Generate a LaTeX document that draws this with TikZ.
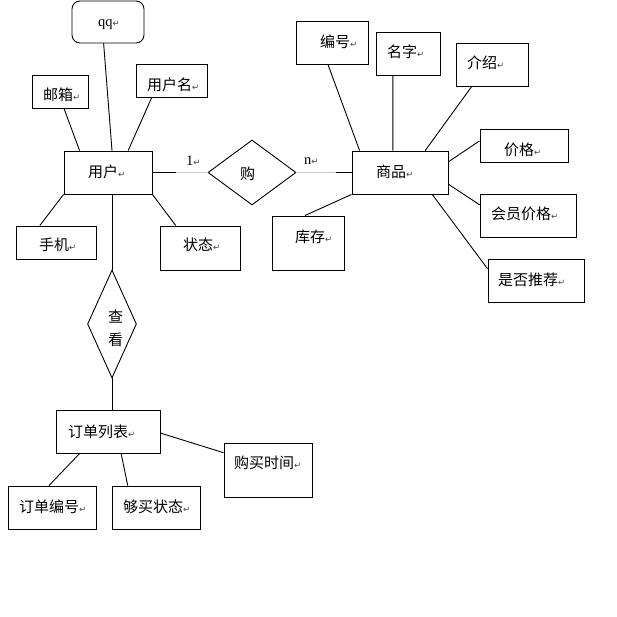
\documentclass[tikz,border=0pt]{standalone}
\usepackage{fontspec}
\setmainfont{Liberation Serif}
\newfontfamily\cjk{Noto Sans CJK SC}
\newfontfamily\symf{DejaVu Sans}
\usetikzlibrary{shapes.geometric,calc}
\newcommand{\rmark}{{\symf\fontsize{8.5}{8.5}\selectfont\textcolor{black!75}{↵}}}
\begin{document}
\begin{tikzpicture}[x=1pt,y=-1pt,
  box/.style={draw,line width=0.9pt,inner sep=0,rectangle},
  rel/.style={draw,line width=0.9pt,inner sep=0,diamond},
  txt/.style={inner sep=0,anchor=west,font=\cjk\fontsize{15}{18}\selectfont},
  lat/.style={inner sep=0,anchor=west,font=\fontsize{14.5}{16}\selectfont},
  link/.style={line width=0.9pt},
  faint/.style={line width=0.9pt,draw=black!22}]
\useasboundingbox (0,0) rectangle (617,617);
% boxes
\node[box,rounded corners=8pt,minimum width=72,minimum height=42] (qq) at (108,22) {};
\node[box,minimum width=56,minimum height=33] (mail) at (60,91.5) {};
\node[box,minimum width=71,minimum height=33] (uname) at (171.5,80.5) {};
\node[box,minimum width=88,minimum height=43] (usr) at (108,172.5) {};
\node[box,minimum width=80,minimum height=33] (phone) at (56,242.5) {};
\node[box,minimum width=80,minimum height=44] (state) at (200,248) {};
\node[rel,minimum width=88,minimum height=65] (buy) at (252,172.5) {};
\node[box,minimum width=72,minimum height=43] (gid) at (332,42.5) {};
\node[box,minimum width=64,minimum height=43] (gname) at (408,53.5) {};
\node[box,minimum width=72,minimum height=43] (intro) at (492,64.5) {};
\node[box,minimum width=96,minimum height=43] (goods) at (400,172.5) {};
\node[box,minimum width=88,minimum height=33] (price) at (524,145.5) {};
\node[box,minimum width=96,minimum height=43] (vprice) at (528,215.5) {};
\node[box,minimum width=72,minimum height=54] (stock) at (308,243) {};
\node[box,minimum width=96,minimum height=43] (rec) at (536,280.5) {};
\node[rel,minimum width=49,minimum height=108] (look) at (112,324) {};
\node[box,minimum width=104,minimum height=43] (order) at (108,431.5) {};
\node[box,minimum width=88,minimum height=54] (btime) at (268,470) {};
\node[box,minimum width=88,minimum height=43] (oid) at (52,507.5) {};
\node[box,minimum width=88,minimum height=43] (ostate) at (156,507.5) {};
% texts
\node[lat] (tqq) at (98,25) {qq\rmark};
\node[txt] (tmail) at (43,95) {邮箱\rmark};
\node[txt] (tuname) at (147,85) {用户名\rmark};
\node[txt] (tusr) at (88,172) {用户\rmark};
\node[txt] (tbuy) at (240,174) {购};
\node[txt] (tphone) at (39,245) {手机\rmark};
\node[txt] (tstate) at (183,245) {状态\rmark};
\node[txt] (tgid) at (320,42) {编号\rmark};
\node[txt] (tgname) at (387,52) {名字\rmark};
\node[txt] (tintro) at (467,63) {介绍\rmark};
\node[txt] (tgoods) at (376,172) {商品\rmark};
\node[txt] (tprice) at (504,150) {价格\rmark};
\node[txt] (tvprice) at (491,214) {会员价格\rmark};
\node[txt] (tstock) at (295,237) {库存\rmark};
\node[txt] (trec) at (498,280) {是否推荐\rmark};
\node[txt] (tlook1) at (108,317) {查};
\node[txt] (tlook2) at (108,340) {看};
\node[txt] (torder) at (68,432) {订单列表\rmark};
\node[txt] (tbtime) at (234,463) {购买时间\rmark};
\node[txt] (toid) at (19,507) {订单编号\rmark};
\node[txt] (tostate) at (123,507) {够买状态\rmark};
\node[lat] (tone) at (186,161) {1\rmark};
\node[lat] (tn) at (304,161) {n\rmark};
% connectors: user
\draw[link] ($(usr.north west)!0.18!(usr.north east)$) -- ($(mail.south west)!0.57!(mail.south east)$);
\draw[link] ($(usr.north west)!0.545!(usr.north east)$) -- ($(qq.south west)!0.44!(qq.south east)$);
\draw[link] ($(usr.north west)!0.727!(usr.north east)$) -- ($(uname.south west)!0.225!(uname.south east)$);
\draw[link] (usr.south west) -- ($(phone.north west)!0.3!(phone.north east)$);
\draw[link] (usr.south east) -- ($(state.north west)!0.2!(state.north east)$);
\draw[link] (usr.south -| look.north) -- (look.north);
\draw[link] (usr.east) -- ($(usr.east)+(24,0)$) coordinate (u1);
\draw[faint] (u1) -- (buy.west);
% connectors: goods
\draw[faint] (buy.east) -- ($(goods.west)+(-16,0)$) coordinate (g1);
\draw[link] (g1) -- (goods.west);
\draw[link] ($(goods.north west)!0.083!(goods.north east)$) -- ($(gid.south west)!0.444!(gid.south east)$);
\draw[link] ($(goods.north west)!0.427!(goods.north east)$) -- ($(gname.south west)!0.266!(gname.south east)$);
\draw[link] ($(goods.north west)!0.76!(goods.north east)$) -- ($(intro.south west)!0.222!(intro.south east)$);
\draw[link] ($(goods.north east)!0.256!(goods.south east)$) -- ($(price.north west)!0.364!(price.south west)$);
\draw[link] ($(goods.north east)!0.767!(goods.south east)$) -- ($(vprice.north west)!0.256!(vprice.south west)$);
\draw[link] ($(goods.south west)!0.833!(goods.south east)$) -- ($(rec.north west)!0.233!(rec.south west)$);
\draw[link] (goods.south west) -- ($(stock.north west)!0.458!(stock.north east)$);
% connectors: order
\draw[link] (look.south) -- (look.south |- order.north);
\draw[link] ($(order.south west)!0.23!(order.south east)$) -- ($(oid.north west)!0.466!(oid.north east)$);
\draw[link] ($(order.south west)!0.625!(order.south east)$) -- ($(ostate.north west)!0.182!(ostate.north east)$);
\draw[link] ($(order.north east)!0.535!(order.south east)$) -- ($(btime.north west)!0.185!(btime.south west)$);
\end{tikzpicture}
\end{document}
